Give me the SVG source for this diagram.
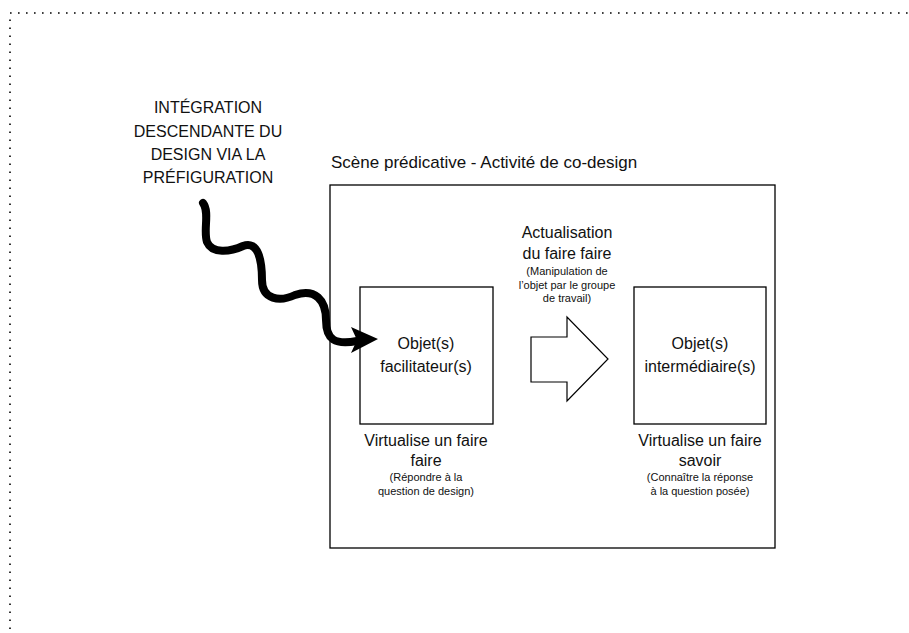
<svg xmlns="http://www.w3.org/2000/svg" width="909" height="633" viewBox="0 0 909 633">
<style>
text{font-family:"Liberation Sans",Arial,sans-serif;fill:#111;text-anchor:middle}
.m{font-size:16px}
.s{font-size:11px}
.t{font-size:16px}
.h{font-size:17px}
.box{fill:#fff;stroke:#000;stroke-width:1.3}
</style>
<rect width="909" height="633" fill="#fff"/>
<rect x="10" y="13" width="1000" height="1000" fill="none" stroke="#000" stroke-width="1.6" stroke-dasharray="1.6 6.4"/>
<g id="scene">
<rect class="box" x="330" y="185" width="445" height="363"/>
<text class="h" x="331" y="168" style="text-anchor:start">Scène prédicative - Activité de co-design</text>
</g>
<g id="label-integration">
<text class="t" x="208" y="113">INTÉGRATION</text>
<text class="t" x="208" y="137">DESCENDANTE DU</text>
<text class="t" x="208" y="160">DESIGN VIA LA</text>
<text class="t" x="208" y="183">PRÉFIGURATION</text>
</g>
<g id="objet-facilitateur">
<rect class="box" x="360" y="287" width="133" height="137"/>
<text class="m" x="426" y="349">Objet(s)</text>
<text class="m" x="426" y="372">facilitateur(s)</text>
<text class="m" x="426" y="446">Virtualise un faire</text>
<text class="m" x="426" y="466">faire</text>
<text class="s" x="426" y="481">(Répondre à la</text>
<text class="s" x="426" y="495">question de design)</text>
</g>
<g id="objet-intermediaire">
<rect class="box" x="634" y="287" width="132" height="137"/>
<text class="m" x="700" y="349">Objet(s)</text>
<text class="m" x="700" y="372">intermédiaire(s)</text>
<text class="m" x="700" y="446">Virtualise un faire</text>
<text class="m" x="700" y="466">savoir</text>
<text class="s" x="700" y="481">(Connaître la réponse</text>
<text class="s" x="700" y="495">à la question posée)</text>
</g>
<g id="actualisation">
<polygon points="531,337 567,337 567,317 608,359 567,401 567,382 531,382" fill="#fff" stroke="#000" stroke-width="1.2"/>
<text class="m" x="567" y="238">Actualisation</text>
<text class="m" x="567" y="259">du faire faire</text>
<text class="s" x="567" y="275">(Manipulation de</text>
<text class="s" x="567" y="289">l’objet par le groupe</text>
<text class="s" x="567" y="302">de travail)</text>
</g>
<g id="connectors">
<path d="M203,203 C210,212 203,230 207,242 C212,254 230,252 243,246 C258,240 262,260 262,280 C262,300 280,302 295,295 C315,288 326,300 326,320 C326,340 335,345 357,341" fill="none" stroke="#000" stroke-width="8" stroke-linecap="round"/>
<polygon points="378,339 351,327 357,340 351,353" fill="#000"/>
</g>
</svg>
